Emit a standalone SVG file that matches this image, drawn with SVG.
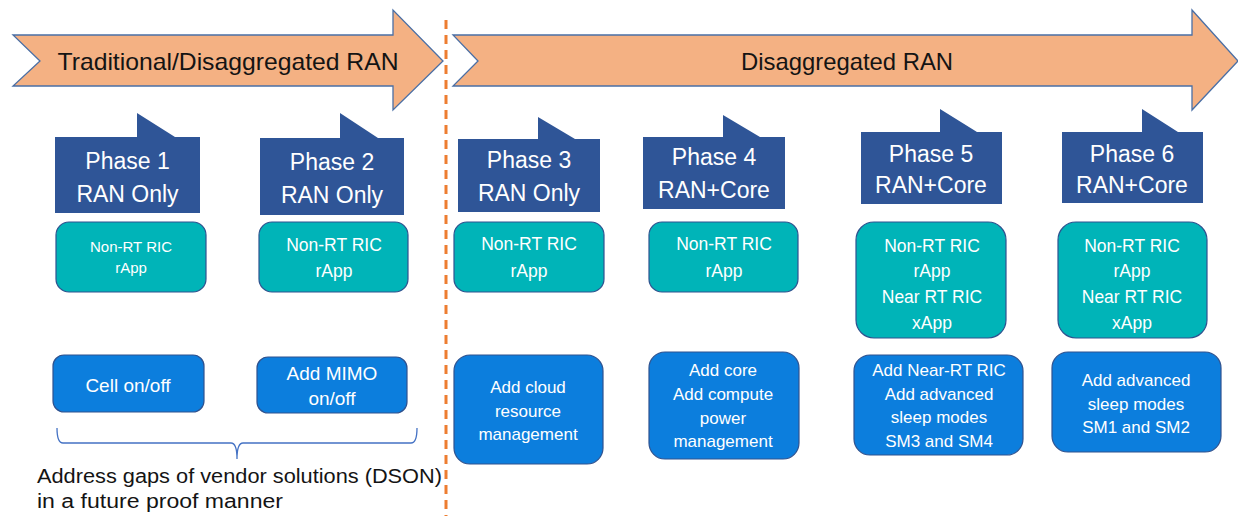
<svg xmlns="http://www.w3.org/2000/svg" width="1238" height="516" viewBox="0 0 1238 516">
  <style>
    .band { fill: #F4B183; stroke: #4A6FA5; stroke-width: 1.3; }
    .band-text { font-family: "Liberation Sans", Arial, sans-serif; font-size: 24px; fill: #141414; text-anchor: middle; }
    .phase { fill: #2F5597; }
    .phase-text { font-family: "Liberation Sans", Arial, sans-serif; font-size: 23px; fill: #FFFFFF; text-anchor: middle; }
    .ric { fill: #00B4B8; stroke: #2F528F; stroke-width: 1.2; }
    .ric-text { font-family: "Liberation Sans", Arial, sans-serif; font-size: 17.5px; fill: #FFFFFF; text-anchor: middle; }
    .act { fill: #0C7EDD; stroke: #2F528F; stroke-width: 1.2; }
    .act-text { font-family: "Liberation Sans", Arial, sans-serif; font-size: 17px; fill: #FFFFFF; text-anchor: middle; }
    .divider { stroke: #ED7D31; stroke-width: 3; stroke-dasharray: 9 6; fill: none; }
    .brace { stroke: #4472C4; stroke-width: 1.3; fill: none; }
    .note { font-family: "Liberation Sans", Arial, sans-serif; font-size: 20px; fill: #141414; }
  </style>

  <!-- timeline bands -->
  <g id="band-traditional">
    <polygon class="band" points="13,35 393,35 393,10 443,61 393,110 393,86 13,86 40,61"/>
    <text class="band-text" x="228" y="70" textLength="341" lengthAdjust="spacingAndGlyphs">Traditional/Disaggregated RAN</text>
  </g>
  <g id="band-disaggregated">
    <polygon class="band" points="453,35 1192,35 1192,10 1238,61 1192,110 1192,86 453,86 478,61"/>
    <text class="band-text" x="847" y="70" textLength="212" lengthAdjust="spacingAndGlyphs">Disaggregated RAN</text>
  </g>

  <!-- divider between the two eras -->
  <line id="divider" class="divider" x1="446" y1="20" x2="446" y2="516"/>

  <!-- phase callouts -->
  <g id="phase1">
    <path class="phase" d="M55,137 H137 V113 L175,137 H200 V213 H55 Z"/>
    <text class="phase-text" x="127.5" y="169">Phase 1</text>
    <text class="phase-text" x="127.5" y="202">RAN Only</text>
  </g>
  <g id="phase2">
    <path class="phase" d="M260,138 H340 V113 L378,138 H404 V215 H260 Z"/>
    <text class="phase-text" x="332" y="170">Phase 2</text>
    <text class="phase-text" x="332" y="203">RAN Only</text>
  </g>
  <g id="phase3">
    <path class="phase" d="M458,139 H538 V117 L575,139 H600 V212 H458 Z"/>
    <text class="phase-text" x="529" y="168">Phase 3</text>
    <text class="phase-text" x="529" y="201">RAN Only</text>
  </g>
  <g id="phase4">
    <path class="phase" d="M643,137 H723 V115 L760,137 H785 V209 H643 Z"/>
    <text class="phase-text" x="714" y="165">Phase 4</text>
    <text class="phase-text" x="714" y="198">RAN+Core</text>
  </g>
  <g id="phase5">
    <path class="phase" d="M861,132 H940 V109 L977,132 H1002 V204 H861 Z"/>
    <text class="phase-text" x="931" y="162">Phase 5</text>
    <text class="phase-text" x="931" y="193">RAN+Core</text>
  </g>
  <g id="phase6">
    <path class="phase" d="M1062,132 H1142 V109 L1178,132 H1203 V203 H1062 Z"/>
    <text class="phase-text" x="1132" y="162">Phase 6</text>
    <text class="phase-text" x="1132" y="193">RAN+Core</text>
  </g>

  <!-- RIC / app boxes -->
  <g id="ric1">
    <rect class="ric" x="56" y="222" width="150" height="70" rx="13"/>
    <text class="ric-text" x="131" y="252" style="font-size:15px">Non-RT RIC</text>
    <text class="ric-text" x="131" y="273" style="font-size:15px">rApp</text>
  </g>
  <g id="ric2">
    <rect class="ric" x="259" y="222" width="149" height="70" rx="13"/>
    <text class="ric-text" x="334" y="251">Non-RT RIC</text>
    <text class="ric-text" x="334" y="277">rApp</text>
  </g>
  <g id="ric3">
    <rect class="ric" x="454" y="222" width="150" height="70" rx="13"/>
    <text class="ric-text" x="529" y="250">Non-RT RIC</text>
    <text class="ric-text" x="529" y="277">rApp</text>
  </g>
  <g id="ric4">
    <rect class="ric" x="649" y="222" width="149" height="70" rx="13"/>
    <text class="ric-text" x="724" y="250">Non-RT RIC</text>
    <text class="ric-text" x="724" y="277">rApp</text>
  </g>
  <g id="ric5">
    <rect class="ric" x="856" y="222" width="150" height="116" rx="18"/>
    <text class="ric-text" x="932" y="252">Non-RT RIC</text>
    <text class="ric-text" x="932" y="277">rApp</text>
    <text class="ric-text" x="932" y="303">Near RT RIC</text>
    <text class="ric-text" x="932" y="329">xApp</text>
  </g>
  <g id="ric6">
    <rect class="ric" x="1058" y="222" width="149" height="116" rx="18"/>
    <text class="ric-text" x="1132" y="252">Non-RT RIC</text>
    <text class="ric-text" x="1132" y="277">rApp</text>
    <text class="ric-text" x="1132" y="303">Near RT RIC</text>
    <text class="ric-text" x="1132" y="329">xApp</text>
  </g>

  <!-- energy-saving actions -->
  <g id="action1">
    <rect class="act" x="53" y="355" width="151" height="57" rx="11"/>
    <text class="act-text" x="128" y="392" style="font-size:19px">Cell on/off</text>
  </g>
  <g id="action2">
    <rect class="act" x="257" y="357" width="150" height="56" rx="11"/>
    <text class="act-text" x="332" y="380" style="font-size:19px">Add MIMO</text>
    <text class="act-text" x="332" y="405" style="font-size:19px">on/off</text>
  </g>
  <g id="action3">
    <rect class="act" x="454" y="355" width="149" height="109" rx="16"/>
    <text class="act-text" x="528" y="393">Add cloud</text>
    <text class="act-text" x="528" y="417">resource</text>
    <text class="act-text" x="528" y="440">management</text>
  </g>
  <g id="action4">
    <rect class="act" x="649" y="352" width="150" height="107" rx="16"/>
    <text class="act-text" x="723" y="376">Add core</text>
    <text class="act-text" x="723" y="400">Add compute</text>
    <text class="act-text" x="723" y="424">power</text>
    <text class="act-text" x="723" y="447">management</text>
  </g>
  <g id="action5">
    <rect class="act" x="854" y="355" width="169" height="100" rx="16"/>
    <text class="act-text" x="939" y="376">Add Near-RT RIC</text>
    <text class="act-text" x="939" y="400">Add advanced</text>
    <text class="act-text" x="939" y="423">sleep modes</text>
    <text class="act-text" x="939" y="447">SM3 and SM4</text>
  </g>
  <g id="action6">
    <rect class="act" x="1052" y="352" width="169" height="100" rx="16"/>
    <text class="act-text" x="1136" y="386">Add advanced</text>
    <text class="act-text" x="1136" y="410">sleep modes</text>
    <text class="act-text" x="1136" y="433">SM1 and SM2</text>
  </g>

  <!-- brace grouping phases 1 and 2 -->
  <g id="connectors">
    <path class="brace" d="M57,428 Q57,443 63,443 L231,443 Q237,443 237,459 Q237,443 243,443 L411,443 Q417,443 417,428"/>
  </g>

  <g id="note">
    <text class="note" x="37" y="483" textLength="405" lengthAdjust="spacingAndGlyphs">Address gaps of vendor solutions (DSON)</text>
    <text class="note" x="37" y="508" textLength="246" lengthAdjust="spacingAndGlyphs">in a future proof manner</text>
  </g>
</svg>
